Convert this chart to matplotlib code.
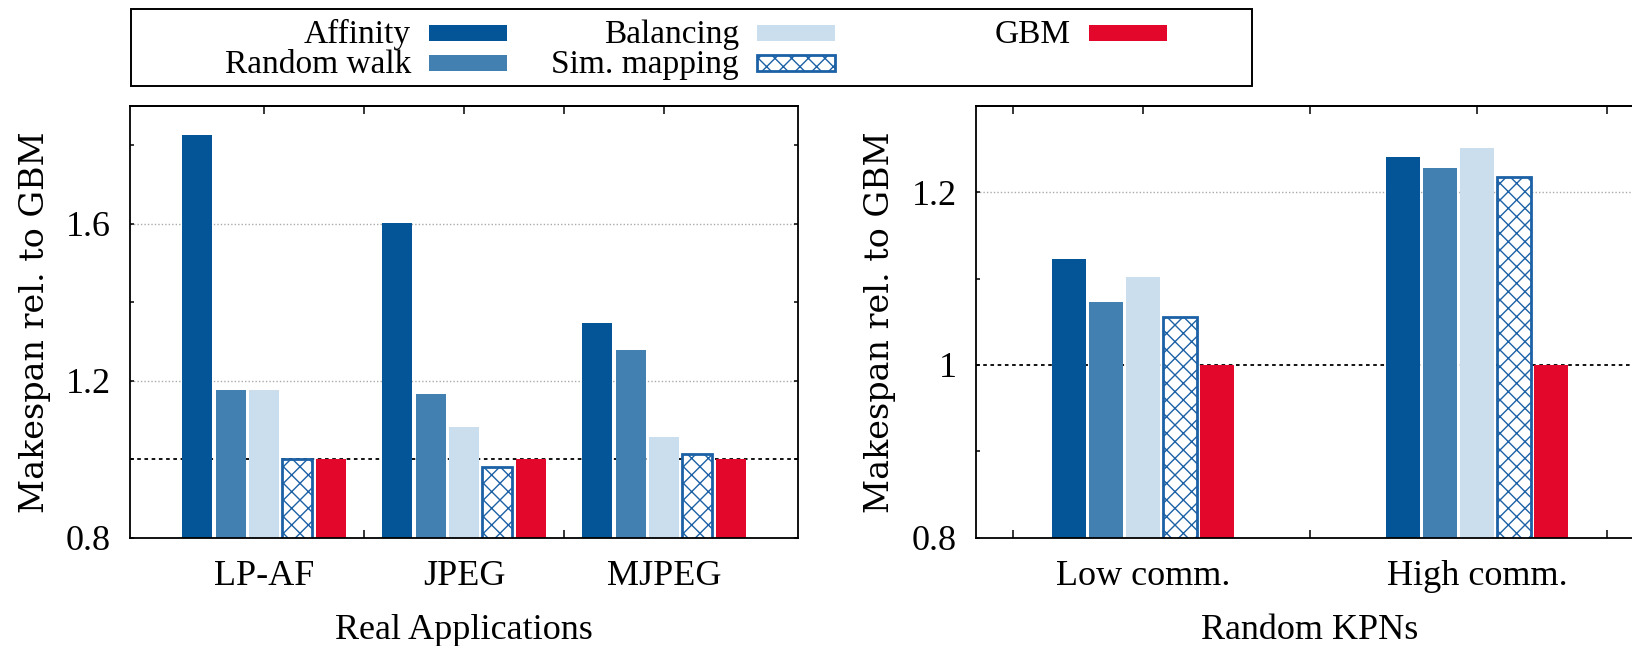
import matplotlib.pyplot as plt
import numpy as np
from matplotlib.patches import Rectangle

plt.rcParams['font.family'] = 'Liberation Serif'
plt.rcParams['hatch.linewidth'] = 1.0

# series shown in both panels
series = ['Affinity', 'Random walk', 'Balancing', 'Sim. mapping', 'GBM']
colors = ['#035598', '#4280b2', '#cbdeed', 'white', '#e3072b']
sim_edge = '#1c61a6'

# left panel: real applications
real_apps = ['LP-AF', 'JPEG', 'MJPEG']
affinity_real = [1.825, 1.602, 1.347]
randwalk_real = [1.176, 1.165, 1.277]
balancing_real = [1.176, 1.083, 1.056]
simmap_real = [1.0, 0.981, 1.014]
gbm_real = [1.0, 1.0, 1.0]

# right panel: random KPNs
kpns = ['Low comm.', 'High comm.']
affinity_kpn = [1.123, 1.241]
randwalk_kpn = [1.073, 1.228]
balancing_kpn = [1.102, 1.251]
simmap_kpn = [1.056, 1.217]
gbm_kpn = [1.0, 1.0]

W, H = 1633, 646
fig = plt.figure(figsize=(W / 100, H / 100), dpi=100)


def px_box(x0, y0, x1, y1):
    # pixel box (top-left origin) -> figure fraction
    return [x0 / W, 1 - y1 / H, (x1 - x0) / W, (y1 - y0) / H]


def draw_panel(ax, cats, values, pitch, width, xlim, ylim, yticks, ylabels,
               yminor, bottom_ticks, top_ticks, grid_vals, xlabel, ylab_x):
    x = np.arange(len(cats))
    ax.axhline(1.0, color='black', lw=1.3, ls=(0, (2, 2)), zorder=1)
    for g in grid_vals:
        ax.axhline(g, color='#aaaaaa', lw=1.0, ls=(0, (1, 1.5)), zorder=1)
    for i, (name, vals) in enumerate(zip(series, values)):
        pos = x + (i - 2) * pitch
        if name == 'Sim. mapping':
            ax.bar(pos, vals, width, color='white', edgecolor=sim_edge,
                   hatch='xx', lw=2.0, zorder=2)
        else:
            ax.bar(pos, vals, width, color=colors[i], edgecolor='none', zorder=2)

    ax.set_xlim(*xlim)
    ax.set_ylim(*ylim)
    ax.set_xticks(x)
    ax.set_xticklabels(cats)
    ax.set_xticks(bottom_ticks, minor=True)
    ax.tick_params(axis='x', which='major', length=0, pad=16, labelsize=26)
    ax.tick_params(axis='x', which='minor', direction='in', length=6, width=1.1)
    ax.set_yticks(yticks)
    ax.set_yticklabels(ylabels)
    ax.set_yticks(yminor, minor=True)
    ax.tick_params(axis='y', which='both', direction='in', length=3.2,
                   width=1.1, right=True, labelsize=26, pad=14)
    for s in ax.spines.values():
        s.set_linewidth(1.3)

    top = ax.secondary_xaxis('top')
    top.set_xticks(top_ticks)
    top.tick_params(direction='in', length=6, width=1.1, labeltop=False)
    top.spines['top'].set_linewidth(1.3)

    ax.set_xlabel(xlabel, fontsize=26, va='top')
    ax.xaxis.set_label_coords(0.5, -0.176)
    ax.set_ylabel('Makespan rel. to GBM', fontfamily='DejaVu Serif', fontsize=24)
    ax.yaxis.set_label_coords(ylab_x, 0.5)


ax1 = fig.add_axes(px_box(130, 105.7, 798, 537.7))
draw_panel(ax1, real_apps,
           [affinity_real, randwalk_real, balancing_real, simmap_real, gbm_real],
           0.1667, 0.15, (-0.67, 2.67), (0.8, 1.9),
           [0.8, 1.2, 1.6], ['0.8', '1.2', '1.6'], [1.0, 1.4, 1.8],
           [0.5, 1.5], [0, 0.5, 1, 1.5, 2], [1.2, 1.6],
           'Real Applications', -0.118)

ax2 = fig.add_axes(px_box(976, 105.7, 1644, 537.7))
draw_panel(ax2, kpns,
           [affinity_kpn, randwalk_kpn, balancing_kpn, simmap_kpn, gbm_kpn],
           0.111, 0.1, (-0.5, 1.5), (0.8, 1.3),
           [0.8, 1.0, 1.2], ['0.8', '1', '1.2'], [0.9, 1.1],
           [-0.39, 0.5, 1.39], [-0.39, 0, 0.5, 1, 1.39], [1.2],
           'Random KPNs', -0.12)

# legend box drawn by hand: fixed-width columns, text right of swatch
fig.add_artist(Rectangle((131 / W, 1 - 86 / H), (1252 - 131) / W, 77 / H,
                         transform=fig.transFigure, fill=False, lw=1.4,
                         ec='black'))
col_x = [429, 757, 1089]
row_y = [33, 63]
for i, name in enumerate(series):
    c, r = divmod(i, 2)
    sx, sy = col_x[c], row_y[r]
    if name == 'Sim. mapping':
        sw = Rectangle((sx / W, 1 - (sy + 8) / H), 78 / W, 16 / H,
                       transform=fig.transFigure, fc='white', ec=sim_edge,
                       hatch='xx', lw=2.0)
    else:
        sw = Rectangle((sx / W, 1 - (sy + 8) / H), 78 / W, 16 / H,
                       transform=fig.transFigure, fc=colors[i], ec='none')
    fig.add_artist(sw)
    fig.text((sx - 18) / W, 1 - (sy + 10) / H, name, ha='right',
             va='baseline', fontsize=24)

fig.savefig('out.png', dpi=100)
